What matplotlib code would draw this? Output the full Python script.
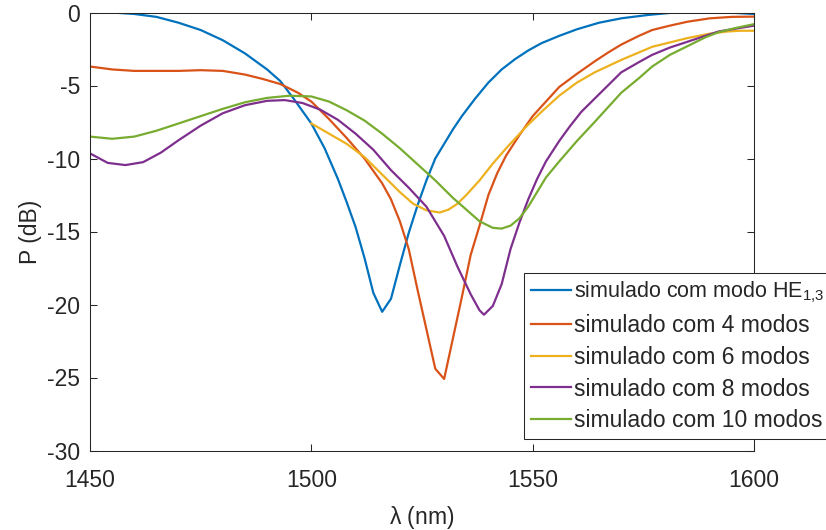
import numpy as np
import matplotlib
matplotlib.use('Agg')
import matplotlib.pyplot as plt

matplotlib.rc('font', size=16.5, family='Liberation Sans')
matplotlib.rc('mathtext', default='regular')
matplotlib.rc('axes', unicode_minus=False)

# HE1,3 mode only
wl_he13 = [1450, 1455, 1460, 1465, 1470, 1475, 1480, 1485, 1490, 1493, 1496,
           1500, 1503, 1506, 1508, 1510, 1512, 1514, 1516, 1518, 1520, 1522,
           1524, 1526, 1528, 1530, 1532, 1534, 1537, 1540, 1543, 1546, 1549,
           1552, 1556, 1560, 1565, 1570, 1576, 1582, 1588, 1594, 1600]
p_he13 = [0.0, 0.0, -0.1, -0.3, -0.7, -1.2, -1.9, -2.8, -3.9, -4.7, -5.9,
          -7.6, -9.3, -11.4, -13.0, -14.7, -16.8, -19.2, -20.5, -19.6, -17.3, -15.1,
          -13.2, -11.5, -10.0, -9.0, -8.0, -7.1, -5.9, -4.8, -3.9, -3.2, -2.6,
          -2.1, -1.6, -1.15, -0.7, -0.4, -0.17, 0.0, 0.05, 0.0, -0.1]

# 4 modes
wl_4 = [1450, 1455, 1460, 1465, 1470, 1475, 1480, 1485, 1489, 1493, 1497,
        1500, 1504, 1508, 1512, 1516, 1518, 1520, 1522, 1524, 1526, 1528,
        1530, 1532, 1534, 1536, 1538, 1540, 1542, 1544, 1547, 1550, 1553,
        1556, 1560, 1564, 1567, 1570, 1574, 1577, 1581, 1585, 1590, 1595, 1600]
p_4 = [-3.7, -3.9, -4.0, -4.0, -4.0, -3.95, -4.0, -4.25, -4.55, -4.9, -5.5,
       -6.1, -7.3, -8.6, -10.0, -11.7, -12.8, -14.3, -16.2, -19.0, -21.7, -24.4,
       -25.1, -22.3, -19.5, -16.6, -14.6, -12.5, -11.0, -9.8, -8.4, -7.1, -6.1,
       -5.1, -4.2, -3.35, -2.75, -2.2, -1.6, -1.2, -0.9, -0.63, -0.4, -0.3, -0.28]

# 6 modes
wl_6 = [1500, 1504, 1508, 1512, 1516, 1520, 1523, 1526, 1529, 1531, 1533,
        1535, 1538, 1541, 1544, 1548.6, 1552, 1556, 1560, 1564, 1570, 1577,
        1585, 1590, 1594, 1597, 1600]
p_6 = [-7.6, -8.3, -9.0, -9.9, -11.1, -12.3, -13.1, -13.55, -13.7, -13.5, -13.1,
       -12.5, -11.5, -10.35, -9.3, -7.8, -6.8, -5.7, -4.8, -4.1, -3.25, -2.35,
       -1.75, -1.45, -1.3, -1.25, -1.25]

# 8 modes
wl_8 = [1450, 1454, 1458, 1462, 1466, 1470, 1475, 1480, 1485, 1490, 1494,
        1498, 1502, 1506, 1510, 1514, 1518, 1522, 1526, 1530, 1533, 1536,
        1538, 1539, 1541, 1543, 1545, 1547, 1549, 1551, 1553, 1556, 1558.4,
        1561, 1564, 1567, 1570, 1574, 1577, 1581, 1585, 1589, 1592, 1596, 1600]
p_8 = [-9.65, -10.3, -10.45, -10.25, -9.6, -8.75, -7.75, -6.9, -6.35, -6.05, -6.0,
       -6.2, -6.65, -7.35, -8.3, -9.4, -10.8, -12.0, -13.3, -15.3, -17.4, -19.3,
       -20.4, -20.7, -20.1, -18.6, -16.2, -14.4, -12.8, -11.4, -10.2, -8.8, -7.8,
       -6.8, -5.9, -5.0, -4.1, -3.4, -2.9, -2.4, -2.0, -1.6, -1.3, -1.1, -0.9]

# 10 modes
wl_10 = [1450, 1455, 1460, 1465, 1470, 1475, 1480, 1485, 1490, 1495, 1500,
         1504, 1508, 1512, 1516, 1520, 1524, 1528, 1532, 1535, 1538, 1541,
         1543, 1545, 1547, 1549, 1551, 1553, 1556, 1560, 1564, 1567, 1570,
         1574, 1577, 1581, 1585, 1589, 1592, 1596, 1600]
p_10 = [-8.5, -8.65, -8.5, -8.1, -7.6, -7.1, -6.6, -6.15, -5.85, -5.7, -5.75,
        -6.1, -6.7, -7.4, -8.3, -9.3, -10.4, -11.5, -12.7, -13.5, -14.3, -14.75,
        -14.8, -14.6, -14.1, -13.3, -12.3, -11.3, -10.2, -8.8, -7.5, -6.5, -5.5,
        -4.5, -3.7, -2.9, -2.3, -1.7, -1.35, -1.05, -0.8]

series = [
    (wl_he13, p_he13, '#0072BD', 'simulado com modo HE$_{1{,}3}$'),
    (wl_4, p_4, '#D95319', 'simulado com 4 modos'),
    (wl_6, p_6, '#EDB120', 'simulado com 6 modos'),
    (wl_8, p_8, '#7E2F8E', 'simulado com 8 modos'),
    (wl_10, p_10, '#77AC30', 'simulado com 10 modos'),
]

fig = plt.figure(figsize=(8.26, 5.30), dpi=100)
ax = fig.add_axes([90/826, 1 - 450.5/530, 664/826, 438/530])

for x, y, c, lab in series:
    ax.plot(x, y, color=c, lw=1.6, label=lab)

ax.set_xlim(1450, 1600)
ax.set_ylim(-30, 0)
ax.set_xticks([1450, 1500, 1550, 1600])
ax.set_yticks(np.arange(-30, 1, 5))
ax.tick_params(direction='in', length=5, width=0.75, top=True, right=True,
               colors='#262626', labelcolor='#262626')
ax.tick_params(axis='x', pad=13.5)
ax.tick_params(axis='y', pad=7)
for s in ax.spines.values():
    s.set_color('#262626')
    s.set_linewidth(0.75)
ax.set_xlabel('$\\lambda$ (nm)', color='#262626', labelpad=8.5)
ax.set_ylabel('P (dB)', color='#262626', labelpad=4)

leg = ax.legend(loc='upper left', bbox_to_anchor=(524/826, 1 - 273/530),
                bbox_transform=fig.transFigure, fancybox=False, framealpha=1,
                edgecolor='#262626', handlelength=1.75, handletextpad=0.15,
                labelspacing=0.38, borderpad=0.3, borderaxespad=0,
                fontsize=16.5)
leg.get_frame().set_linewidth(0.75)
for t in leg.get_texts():
    t.set_color('#262626')
leg.get_texts()[0].set_fontsize(15.5)

plt.savefig('out.png', dpi=100)
